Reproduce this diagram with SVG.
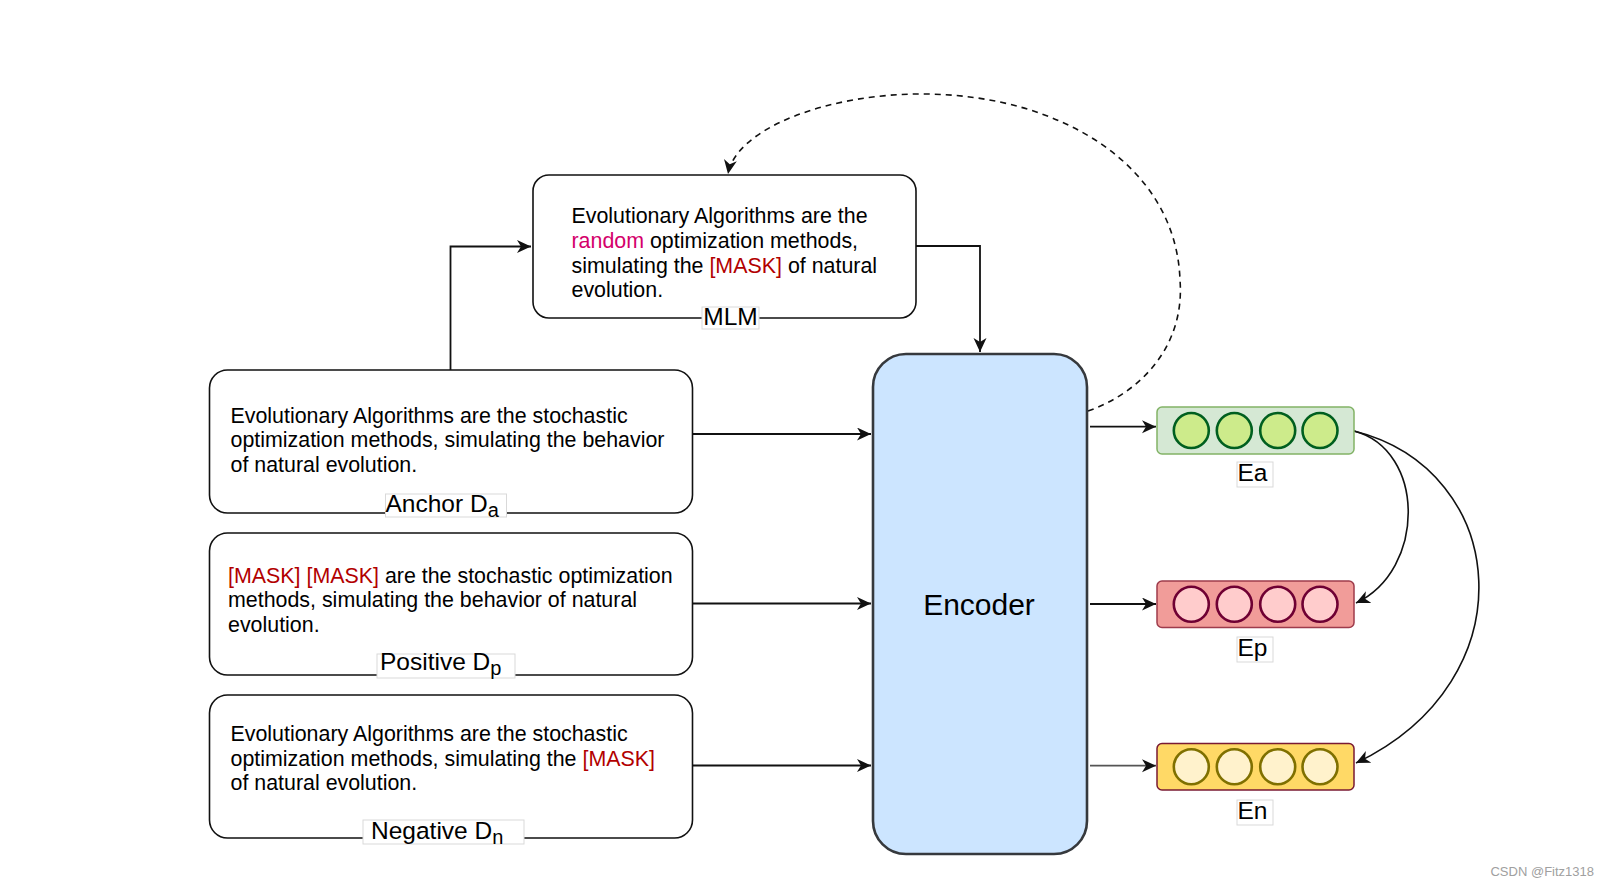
<svg xmlns="http://www.w3.org/2000/svg" width="1609" height="886" viewBox="0 0 1609 886">
<style>
  text { font-family: "Liberation Sans", Arial, Helvetica, sans-serif; fill: #000; }
  .body { font-size: 21.4px; }
  .lbl { font-size: 24.5px; }
  .mask { fill: #b20000; }
  .rand { fill: #d4006b; }
  .box { fill: #fff; stroke: #111; stroke-width: 1.6; }
  .lblbg { fill: #fff; stroke: #d9d9d9; stroke-width: 1; }
  .edge { fill: none; stroke: #111; stroke-width: 1.8; }
  .cA { fill: #cdeb8b; stroke: #005f1f; stroke-width: 2.6; }
  .cP { fill: #ffcccc; stroke: #6f0033; stroke-width: 2.6; }
  .cN { fill: #fff2cc; stroke: #7f7000; stroke-width: 2.6; }
</style>
<defs>
  <marker id="arr" markerUnits="userSpaceOnUse" markerWidth="16" markerHeight="14" refX="14" refY="6.5" orient="auto">
    <path d="M0,0 L14,6.5 L0,13 L4,6.5 Z" fill="#111"/>
  </marker>
</defs>
<rect width="1609" height="886" fill="#fff"/>

<g id="connectors">
  <path class="edge" d="M450.5,370 V246.5 H531" marker-end="url(#arr)"/>
  <path class="edge" d="M916,246 H980 V352" marker-end="url(#arr)"/>
  <path class="edge" d="M693,434 H871" marker-end="url(#arr)"/>
  <path class="edge" d="M693,603.5 H871" marker-end="url(#arr)"/>
  <path class="edge" d="M693,765.5 H871" marker-end="url(#arr)"/>
  <path class="edge" d="M1090,426.7 H1156" marker-end="url(#arr)"/>
  <path class="edge" d="M1090,604 H1156" marker-end="url(#arr)"/>
  <path class="edge" d="M1090,765.7 H1156" marker-end="url(#arr)" style="stroke:#555"/>
  <path class="edge" d="M1088,411 C1142,392 1185,345 1180,280 C1176,165 1060,95 925,94 C830,93 736,128 728,174" stroke-dasharray="6,5" style="stroke-width:1.6" marker-end="url(#arr)"/>
  <path class="edge" d="M1354,431 C1426,450 1426,570 1356,603" style="stroke-width:1.6" marker-end="url(#arr)"/>
  <path class="edge" d="M1354,431 C1510,470 1530,680 1356,763" style="stroke-width:1.6" marker-end="url(#arr)"/>
</g>

<g id="mlm">
  <rect class="box" x="533" y="175" width="383" height="143" rx="16"/>
  <text class="body" x="571.5" y="223">Evolutionary Algorithms are the</text>
  <text class="body" x="571.5" y="248"><tspan class="rand">random</tspan> optimization methods,</text>
  <text class="body" x="571.5" y="272.5">simulating the <tspan class="mask">[MASK]</tspan> of natural</text>
  <text class="body" x="571.5" y="297">evolution.</text>
  <rect class="lblbg" x="702" y="307" width="57" height="22"/>
  <text class="lbl" x="730.5" y="325" text-anchor="middle">MLM</text>
</g>

<g id="anchor">
  <rect class="box" x="209.5" y="370" width="483" height="143" rx="18"/>
  <text class="body" x="230.5" y="422.5">Evolutionary Algorithms are the stochastic</text>
  <text class="body" x="230.5" y="447">optimization methods, simulating the behavior</text>
  <text class="body" x="230.5" y="471.5">of natural evolution.</text>
  <rect class="lblbg" x="385.5" y="494" width="121" height="23"/>
  <text class="lbl" x="385.5" y="511.5">Anchor D<tspan font-size="20" dy="5">a</tspan></text>
</g>

<g id="positive">
  <rect class="box" x="209.5" y="533" width="483" height="142" rx="18"/>
  <text class="body" x="228" y="582.5"><tspan class="mask">[MASK] [MASK]</tspan> are the stochastic optimization</text>
  <text class="body" x="228" y="607">methods, simulating the behavior of natural</text>
  <text class="body" x="228" y="631.5">evolution.</text>
  <rect class="lblbg" x="377" y="654" width="138" height="24"/>
  <text class="lbl" x="380" y="670">Positive D<tspan font-size="20" dy="5">p</tspan></text>
</g>

<g id="negative">
  <rect class="box" x="209.5" y="695" width="483" height="143" rx="18"/>
  <text class="body" x="230.5" y="741">Evolutionary Algorithms are the stochastic</text>
  <text class="body" x="230.5" y="765.5">optimization methods, simulating the <tspan class="mask">[MASK]</tspan></text>
  <text class="body" x="230.5" y="790">of natural evolution.</text>
  <rect class="lblbg" x="363" y="820" width="161" height="24"/>
  <text class="lbl" x="371" y="839">Negative D<tspan font-size="20" dy="5">n</tspan></text>
</g>

<g id="encoder">
  <rect x="873" y="354" width="214" height="500" rx="33" fill="#cce5ff" stroke="#36393d" stroke-width="2.6"/>
  <text x="979" y="615" text-anchor="middle" font-size="30">Encoder</text>
</g>

<g id="ea">
  <rect x="1157" y="407" width="197" height="47" rx="5" fill="#d5e8d4" stroke="#82b366" stroke-width="1.5"/>
  <circle class="cA" cx="1191.3" cy="430.5" r="17.5"/>
  <circle class="cA" cx="1234.3" cy="430.5" r="17.5"/>
  <circle class="cA" cx="1277.7" cy="430.5" r="17.5"/>
  <circle class="cA" cx="1320" cy="430.5" r="17.5"/>
  <rect class="lblbg" x="1237" y="462" width="36" height="25"/>
  <text class="lbl" x="1252.5" y="481" text-anchor="middle" font-size="23">Ea</text>
</g>

<g id="ep">
  <rect x="1157" y="581" width="197" height="46.5" rx="5" fill="#f19c99" stroke="#9e3b4b" stroke-width="1.5"/>
  <circle class="cP" cx="1191.3" cy="604.2" r="17.5"/>
  <circle class="cP" cx="1234.3" cy="604.2" r="17.5"/>
  <circle class="cP" cx="1277.7" cy="604.2" r="17.5"/>
  <circle class="cP" cx="1320" cy="604.2" r="17.5"/>
  <rect class="lblbg" x="1237" y="637" width="36" height="25"/>
  <text class="lbl" x="1252.5" y="656" text-anchor="middle" font-size="23">Ep</text>
</g>

<g id="en">
  <rect x="1157" y="743.5" width="197" height="46.5" rx="5" fill="#ffd966" stroke="#7a1a33" stroke-width="1.5"/>
  <circle class="cN" cx="1191.3" cy="766.7" r="17.5"/>
  <circle class="cN" cx="1234.3" cy="766.7" r="17.5"/>
  <circle class="cN" cx="1277.7" cy="766.7" r="17.5"/>
  <circle class="cN" cx="1320" cy="766.7" r="17.5"/>
  <rect class="lblbg" x="1237" y="800" width="36" height="25"/>
  <text class="lbl" x="1252.5" y="819" text-anchor="middle" font-size="23">En</text>
</g>

<text x="1594" y="876" text-anchor="end" font-size="13" style="fill:#a0a0a0">CSDN @Fitz1318</text>
</svg>
